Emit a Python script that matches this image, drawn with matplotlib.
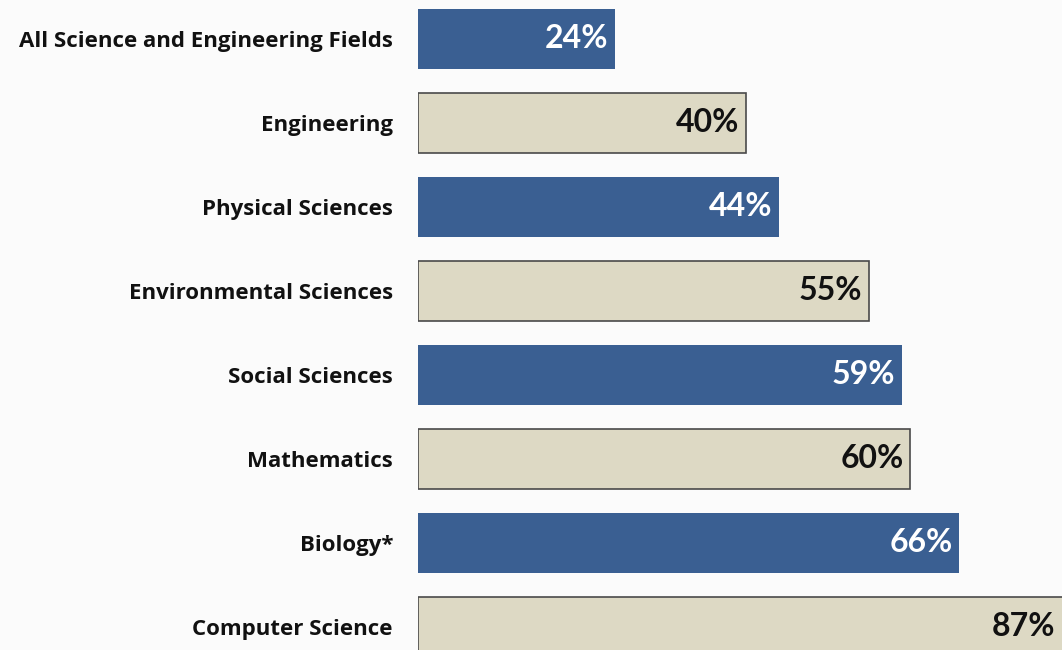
import numpy as np
import matplotlib.pyplot as plt

fields = ['All Science and Engineering Fields', 'Engineering', 'Physical Sciences',
          'Environmental Sciences', 'Social Sciences', 'Mathematics', 'Biology*',
          'Computer Science']
percent = [24, 40, 44, 55, 59, 60, 66, 87]

blue = '#3A5F92'
beige = '#DDD9C4'

plt.rcParams['font.family'] = ['Open Sans', 'DejaVu Sans']

fig = plt.figure(figsize=(10.62, 6.5), dpi=100)
fig.patch.set_facecolor('#FBFBFB')

# axes cover the whole figure height; the last bar runs off the bottom
ax = fig.add_axes([418 / 1062, 0, 644 / 1062, 1])
ax.set_facecolor('none')

px_per_pct = 8.2
xmax = 644 / px_per_pct
ax.set_xlim(0, xmax)
ax.set_ylim(-0.464 + 650 / 84, -0.464)

y = np.arange(len(fields))
for i, (name, val) in enumerate(zip(fields, percent)):
    if i % 2 == 0:
        ax.barh(i, val, height=0.71, color=blue, edgecolor='none', clip_on=True)
        tcolor = 'white'
    else:
        ax.barh(i, val, height=0.71, color=beige, edgecolor='#4A4A4A',
                linewidth=1.2, clip_on=True)
        tcolor = '#111111'
    xend = min(val, xmax)
    ax.text(xend - 0.8, i, f'{val}%', ha='right', va='center',
            fontsize=23, fontweight='bold', color=tcolor, family=['Lato'])

ax.set_yticks(y)
ax.set_yticklabels(fields, fontsize=16, fontweight='bold', color='#111111')
ax.tick_params(axis='y', length=0, pad=18)
ax.set_xticks([])
for s in ax.spines.values():
    s.set_visible(False)

fig.savefig('out.png', dpi=100, facecolor=fig.get_facecolor())
